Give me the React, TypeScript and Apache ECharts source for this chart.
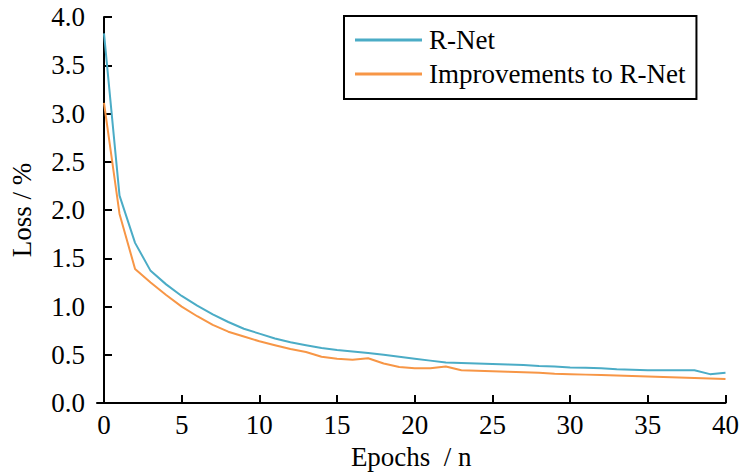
import React, { useEffect, useRef } from "react";
import * as echarts from "echarts";

const epochs: number[] = Array.from({ length: 41 }, (_, i) => i);
const xTicks: number[] = [0, 5, 10, 15, 20, 25, 30, 35, 40];

const rNet: number[] = [
  3.83, 2.15, 1.66, 1.37, 1.23, 1.11, 1.01, 0.92, 0.84, 0.77,
  0.72, 0.67, 0.63, 0.6, 0.57, 0.55, 0.535, 0.52, 0.5, 0.48,
  0.46, 0.44, 0.42, 0.415, 0.41, 0.405, 0.4, 0.395, 0.385, 0.38,
  0.37, 0.365, 0.36, 0.35, 0.345, 0.34, 0.34, 0.34, 0.34, 0.3, 0.315,
];

const improved: number[] = [
  3.11, 1.96, 1.39, 1.25, 1.12, 1.0, 0.9, 0.81, 0.74, 0.69,
  0.64, 0.6, 0.56, 0.53, 0.48, 0.46, 0.45, 0.465, 0.41, 0.375,
  0.36, 0.36, 0.38, 0.34, 0.335, 0.33, 0.325, 0.32, 0.315, 0.305,
  0.3, 0.295, 0.29, 0.285, 0.28, 0.275, 0.27, 0.265, 0.26, 0.255, 0.25,
];

const seriesNames: string[] = ["R-Net", "Improvements to R-Net"];
const colors: string[] = ["#4bacc6", "#f79646"];

const FONT = "'Times New Roman', 'Liberation Serif', serif";

export default function App() {
  const ref = useRef<HTMLDivElement>(null);
  useEffect(() => {
    if (!ref.current) return;
    const chart = echarts.init(ref.current, undefined, { renderer: "svg" });
    const axisLine = { show: true, lineStyle: { color: "#000", width: 2 } };
    chart.setOption({
      animation: false,
      textStyle: { fontFamily: FONT },
      grid: { left: 96, right: 14, top: 17, bottom: 71 },
      legend: {
        orient: "vertical",
        left: 344,
        top: 16,
        data: seriesNames.map((n) => ({ name: n, icon: "rect" })),
        itemWidth: 67,
        itemHeight: 3,
        itemGap: 4,
        itemStyle: { borderWidth: 0 },
        padding: [9, 11, 10, 11],
        borderColor: "#000",
        borderWidth: 2,
        borderRadius: 0,
        textStyle: { fontFamily: FONT, fontSize: 27, lineHeight: 30, color: "#000", padding: [0, 0, 0, 2] },
      },
      xAxis: {
        type: "value",
        min: -0.45,
        max: 40,
        name: "Epochs  / n",
        nameLocation: "middle",
        nameGap: 36,
        nameTextStyle: { fontFamily: FONT, fontSize: 27, color: "#000" },
        axisLine,
        splitLine: { show: false },
        axisTick: { show: true, inside: true, length: 8, lineStyle: { color: "#000", width: 2 }, customValues: xTicks },
        axisLabel: { fontFamily: FONT, fontSize: 27, color: "#000", margin: 8, customValues: xTicks },
      },
      yAxis: {
        type: "value",
        min: 0,
        max: 4,
        interval: 0.5,
        name: "Loss / %",
        nameLocation: "middle",
        nameGap: 62,
        nameTextStyle: { fontFamily: FONT, fontSize: 27, color: "#000" },
        axisLine,
        splitLine: { show: false },
        axisTick: { show: true, inside: true, length: 8, lineStyle: { color: "#000", width: 2 } },
        axisLabel: {
          fontFamily: FONT,
          fontSize: 27,
          color: "#000",
          margin: 12,
          formatter: (v: number) => v.toFixed(1),
        },
      },
      series: [
        {
          name: seriesNames[0],
          type: "line",
          data: epochs.map((e, i) => [e, rNet[i]]),
          symbol: "none",
          lineStyle: { color: colors[0], width: 2 },
          itemStyle: { color: colors[0] },
        },
        {
          name: seriesNames[1],
          type: "line",
          data: epochs.map((e, i) => [e, improved[i]]),
          symbol: "none",
          lineStyle: { color: colors[1], width: 2 },
          itemStyle: { color: colors[1] },
        },
      ],
    });
    return () => chart.dispose();
  }, []);
  return <div ref={ref} style={{ width: 742, height: 475, position: "absolute", left: 0, top: 0 }} />;
}
